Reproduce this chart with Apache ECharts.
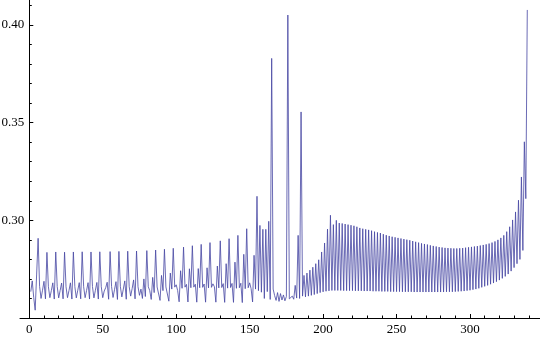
<!DOCTYPE html>
<html>
<head>
<meta charset="utf-8">
<script src="https://cdn.jsdelivr.net/npm/echarts@6/dist/echarts.min.js"></script>
<style>
  html, body { margin: 0; padding: 0; background: #fff; }
  #chart { width: 540px; height: 340px; }
</style>
</head>
<body>
<div id="chart"></div>
<script>
// first sample sits at x = 1, one sample per unit
var startX = 1;

// x = 1..155 : slow pulses, one tall spike about every 6 samples
var pulseValues = [
  0.2635, 0.2690, 0.2605, 0.2540, 0.2725, 0.2908, 0.2662, 0.2600, 0.2642, 0.2688,
  0.2598, 0.2836, 0.2660, 0.2604, 0.2640, 0.2680, 0.2597, 0.2838, 0.2661, 0.2603,
  0.2641, 0.2679, 0.2598, 0.2837, 0.2660, 0.2604, 0.2640, 0.2680, 0.2597, 0.2838,
  0.2661, 0.2603, 0.2642, 0.2681, 0.2598, 0.2839, 0.2660, 0.2604, 0.2641, 0.2681,
  0.2597, 0.2838, 0.2661, 0.2603, 0.2642, 0.2682, 0.2597, 0.2839, 0.2660, 0.2604,
  0.2638, 0.2655, 0.2683, 0.2596, 0.2840, 0.2661, 0.2605, 0.2645, 0.2686, 0.2595,
  0.2841, 0.2660, 0.2608, 0.2648, 0.2690, 0.2596, 0.2842, 0.2660, 0.2612, 0.2650,
  0.2695, 0.2598, 0.2843, 0.2660, 0.2616, 0.2648, 0.2600, 0.2700, 0.2610, 0.2845,
  0.2660, 0.2640, 0.2595, 0.2708, 0.2630, 0.2848, 0.2659, 0.2655, 0.2590, 0.2718,
  0.2640, 0.2852, 0.2659, 0.2665, 0.2586, 0.2730, 0.2648, 0.2857, 0.2658, 0.2670,
  0.2640, 0.2583, 0.2742, 0.2652, 0.2863, 0.2658, 0.2672, 0.2582, 0.2752, 0.2655,
  0.2870, 0.2658, 0.2673, 0.2581, 0.2753, 0.2655, 0.2877, 0.2657, 0.2674, 0.2581,
  0.2757, 0.2654, 0.2886, 0.2657, 0.2675, 0.2660, 0.2581, 0.2766, 0.2654, 0.2895,
  0.2656, 0.2676, 0.2580, 0.2778, 0.2653, 0.2906, 0.2656, 0.2677, 0.2580, 0.2786,
  0.2652, 0.2923, 0.2655, 0.2678, 0.2579, 0.2826, 0.2650, 0.2957, 0.2655, 0.2680,
  0.2650, 0.2582, 0.2821, 0.2648, 0.3123
];

// x = 156..165 : fast alternation ending in the first big spike
var burstValues = [
  0.2640, 0.2974, 0.2632, 0.2954, 0.2600, 0.2954, 0.2635, 0.2995, 0.2595, 0.3829
];

// x = 166..186 : low noisy stretch with the two other big spikes
var gapValues = [
  0.2648, 0.2615, 0.2590, 0.2630, 0.2585, 0.2625, 0.2592, 0.2618, 0.2588, 0.2610,
  0.4051, 0.2598, 0.2592, 0.2612, 0.2596, 0.2667, 0.2602, 0.2923, 0.2600, 0.3555,
  0.2612
];

// x = 187..299 : high / low alternation, hump near 205 then slow decay
var plateauValues = [
  0.2718, 0.2608, 0.2730, 0.2612, 0.2745, 0.2616, 0.2760, 0.2620, 0.2778, 0.2625,
  0.2798, 0.2630, 0.2838, 0.2634, 0.2884, 0.2637, 0.2955, 0.2639, 0.3026, 0.2641,
  0.2978, 0.2641, 0.3000, 0.2641, 0.2986, 0.2641, 0.2984, 0.2640, 0.2981, 0.2640,
  0.2978, 0.2640, 0.2975, 0.2640, 0.2972, 0.2639, 0.2967, 0.2639, 0.2961, 0.2639,
  0.2957, 0.2638, 0.2954, 0.2638, 0.2951, 0.2638, 0.2947, 0.2637, 0.2942, 0.2637,
  0.2938, 0.2637, 0.2935, 0.2636, 0.2929, 0.2636, 0.2924, 0.2636, 0.2920, 0.2635,
  0.2916, 0.2635, 0.2913, 0.2635, 0.2910, 0.2635, 0.2907, 0.2634, 0.2904, 0.2634,
  0.2901, 0.2634, 0.2898, 0.2634, 0.2894, 0.2633, 0.2890, 0.2633, 0.2886, 0.2633,
  0.2882, 0.2633, 0.2879, 0.2633, 0.2876, 0.2633, 0.2872, 0.2633, 0.2869, 0.2633,
  0.2866, 0.2633, 0.2863, 0.2633, 0.2861, 0.2633, 0.2859, 0.2634, 0.2858, 0.2634,
  0.2857, 0.2634, 0.2856, 0.2635, 0.2856, 0.2636, 0.2857, 0.2637, 0.2858, 0.2638,
  0.2860, 0.2640, 0.2862
];

// x = 300..339 : envelope opens up towards the last spike
var tailValues = [
  0.2642, 0.2864, 0.2645, 0.2866, 0.2648, 0.2868, 0.2652, 0.2871, 0.2657, 0.2874,
  0.2662, 0.2877, 0.2667, 0.2881, 0.2673, 0.2886, 0.2679, 0.2892, 0.2686, 0.2900,
  0.2694, 0.2910, 0.2703, 0.2923, 0.2713, 0.2942, 0.2725, 0.2967, 0.2740, 0.3002,
  0.2758, 0.3043, 0.2778, 0.3103, 0.2800, 0.3222, 0.2846, 0.3402, 0.3111, 0.4077
];

var xLabelTicks = [0, 50, 100, 150, 200, 250, 300];
var xMinorTicks = [10, 20, 30, 40, 60, 70, 80, 90, 110, 120, 130, 140, 160, 170, 180, 190,
  210, 220, 230, 240, 260, 270, 280, 290, 310, 320, 330, 340];
var yLabelTicks = [0.30, 0.35, 0.40];
var yMinorTicks = [0.26, 0.27, 0.28, 0.29, 0.31, 0.32, 0.33, 0.34, 0.36, 0.37, 0.38, 0.39, 0.41];

var allValues = pulseValues.concat(burstValues, gapValues, plateauValues, tailValues);
var seriesData = allValues.map(function (v, i) {
  return [startX + i, v];
});

var chart = echarts.init(document.getElementById("chart"), null, { renderer: "canvas" });

var labelFont = {
  fontFamily: "Liberation Serif",
  fontSize: 13,
  color: "#000"
};

var xMin = -6.33, xMax = 347.65;
var yMin = 0.25, yMax = 0.4128;

var option = {
  backgroundColor: "#fff",
  animation: false,
  // grid 0 carries the plot and the x axis (which starts a little left of x = 0),
  // grid 1 starts exactly at x = 0 and only carries the y axis
  grid: [
    { left: 20, top: 0, width: 520, height: 318, containLabel: false, outerBoundsMode: "none" },
    { left: 29.3, top: 0, width: 510.7, height: 318, containLabel: false, outerBoundsMode: "none" }
  ],
  xAxis: [
    {
      gridIndex: 0,
      position: "bottom",
      type: "value",
      min: xMin,
      max: xMax,
      splitLine: { show: false },
      axisLine: { show: true, onZero: false, lineStyle: { color: "#000", width: 1 } },
      axisTick: { show: true, inside: true, length: 4, customValues: xLabelTicks, lineStyle: { color: "#000" } },
      axisLabel: Object.assign({ margin: 5, customValues: xLabelTicks }, labelFont)
    },
    {
      gridIndex: 0,
      position: "bottom",
      type: "value",
      min: xMin,
      max: xMax,
      splitLine: { show: false },
      axisLine: { show: false, onZero: false },
      axisTick: { show: true, inside: true, length: 2.5, customValues: xMinorTicks, lineStyle: { color: "#000" } },
      axisLabel: { show: false }
    },
    {
      gridIndex: 1,
      type: "value",
      min: 0,
      max: 100,
      show: false
    }
  ],
  yAxis: [
    {
      gridIndex: 0,
      type: "value",
      min: yMin,
      max: yMax,
      show: false
    },
    {
      gridIndex: 1,
      position: "left",
      type: "value",
      min: yMin,
      max: yMax,
      splitLine: { show: false },
      axisLine: { show: true, onZero: false, lineStyle: { color: "#000", width: 1 } },
      axisTick: { show: true, inside: true, length: 4, customValues: yLabelTicks, lineStyle: { color: "#000" } },
      axisLabel: Object.assign({
        margin: 5,
        customValues: yLabelTicks,
        formatter: function (v) { return v.toFixed(2); }
      }, labelFont)
    },
    {
      gridIndex: 1,
      position: "left",
      type: "value",
      min: yMin,
      max: yMax,
      splitLine: { show: false },
      axisLine: { show: false, onZero: false },
      axisTick: { show: true, inside: true, length: 2.5, customValues: yMinorTicks, lineStyle: { color: "#000" } },
      axisLabel: { show: false }
    }
  ],
  series: [
    {
      type: "line",
      xAxisIndex: 0,
      yAxisIndex: 0,
      data: seriesData,
      showSymbol: false,
      symbol: "none",
      lineStyle: { color: "#4848a4", width: 0.9, opacity: 0.9 },
      emphasis: { disabled: true }
    }
  ]
};

chart.setOption(option);
</script>
</body>
</html>
